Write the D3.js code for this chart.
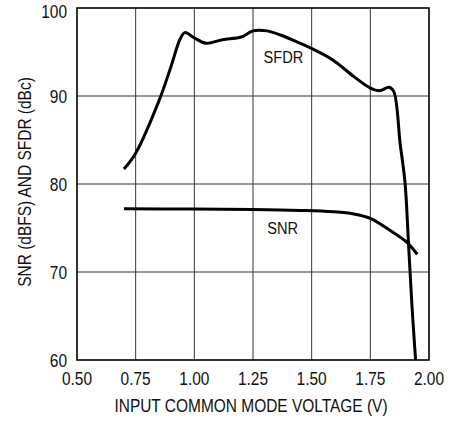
<!DOCTYPE html>
<html>
<head>
<meta charset="utf-8">
<script src="https://cdn.jsdelivr.net/npm/d3@7"></script>
<style>
  body { margin: 0; background: #fff; }
  text { font-family: "Liberation Sans", Arial, sans-serif; fill: #111; }
</style>
</head>
<body>
<div id="chart"></div>
<script>
// values
const xTicks = [0.50, 0.75, 1.00, 1.25, 1.50, 1.75, 2.00];
const yTicks = [60, 70, 80, 90, 100];

const sfdrV = [0.70, 0.75, 0.85, 0.90, 0.94, 0.96, 1.00, 1.05, 1.12, 1.20, 1.25, 1.31, 1.37, 1.45, 1.50, 1.59, 1.68, 1.75, 1.79, 1.83, 1.85, 1.877, 1.898, 1.912, 1.926, 1.94, 1.943];
const sfdrDb = [81.7, 83.5, 89.5, 93.3, 96.5, 97.2, 96.6, 96.0, 96.4, 96.7, 97.4, 97.4, 96.9, 96.0, 95.4, 94.1, 92.2, 90.9, 90.6, 91.0, 90.5, 84.6, 80.1, 73.6, 66.8, 61.1, 60.0];

const snrV = [0.70, 1.00, 1.25, 1.45, 1.59, 1.68, 1.75, 1.83, 1.905, 1.95];
const snrDb = [77.2, 77.15, 77.1, 77.0, 76.85, 76.6, 76.1, 74.8, 73.4, 72.0];

const width = 450;
const height = 423;
const margin = { top: 8, right: 21, bottom: 63, left: 77 };
const narrow = 0.86; // no condensed face installed, squeeze horizontally

const svg = d3.select("#chart")
  .append("svg")
  .attr("width", width)
  .attr("height", height);

const x = d3.scaleLinear().domain([0.5, 2.0]).range([margin.left, width - margin.right]);
const y = d3.scaleLinear().domain([60, 100]).range([height - margin.bottom, margin.top]);

// grid
svg.append("g")
  .selectAll("line")
  .data(xTicks.slice(1, -1))
  .join("line")
    .attr("x1", d => x(d)).attr("x2", d => x(d))
    .attr("y1", y(60)).attr("y2", y(100))
    .attr("stroke", "#333").attr("stroke-width", 1);

svg.append("g")
  .selectAll("line")
  .data(yTicks.slice(1, -1))
  .join("line")
    .attr("x1", x(0.5)).attr("x2", x(2.0))
    .attr("y1", d => y(d)).attr("y2", d => y(d))
    .attr("stroke", "#333").attr("stroke-width", 1);

// frame
svg.append("rect")
  .attr("x", x(0.5)).attr("y", y(100))
  .attr("width", x(2.0) - x(0.5)).attr("height", y(60) - y(100))
  .attr("fill", "none").attr("stroke", "#000").attr("stroke-width", 1.6);

// tick labels
svg.append("g")
  .selectAll("text")
  .data(xTicks)
  .join("text")
    .attr("transform", d => `translate(${x(d)}, ${y(60) + 25}) scale(${narrow}, 1)`)
    .attr("text-anchor", "middle")
    .style("font-size", "18px")
    .text(d => d.toFixed(2));

// top label sits a little lower so it is not clipped
svg.append("g")
  .selectAll("text")
  .data(yTicks)
  .join("text")
    .attr("transform", d => `translate(${x(0.5) - 10}, ${y(d) + (d === 100 ? 10 : 7)}) scale(${narrow}, 1)`)
    .attr("text-anchor", "end")
    .style("font-size", "18px")
    .text(d => d);

// axis titles
svg.append("text")
  .attr("transform", `translate(${(x(0.5) + x(2.0)) / 2 - 2}, 412) scale(${narrow}, 1)`)
  .attr("text-anchor", "middle")
  .style("font-size", "18px")
  .text("INPUT COMMON MODE VOLTAGE (V)");

svg.append("text")
  .attr("transform", `translate(31, ${(y(60) + y(100)) / 2 - 2}) rotate(-90) scale(${narrow}, 1)`)
  .attr("text-anchor", "middle")
  .style("font-size", "18px")
  .text("SNR (dBFS) AND SFDR (dBc)");

// curves
const line = d3.line()
  .x(d => x(d[0]))
  .y(d => y(d[1]))
  .curve(d3.curveCatmullRom.alpha(0.5));

svg.append("path")
  .datum(d3.zip(sfdrV, sfdrDb))
  .attr("d", line)
  .attr("fill", "none").attr("stroke", "#000").attr("stroke-width", 3);

svg.append("path")
  .datum(d3.zip(snrV, snrDb))
  .attr("d", line)
  .attr("fill", "none").attr("stroke", "#000").attr("stroke-width", 3);

// curve labels
svg.append("text")
  .attr("transform", `translate(${x(1.38)}, ${y(93.75)}) scale(${narrow}, 1)`)
  .attr("text-anchor", "middle")
  .style("font-size", "17px")
  .text("SFDR");

svg.append("text")
  .attr("transform", `translate(${x(1.376)}, ${y(74.3)}) scale(${narrow}, 1)`)
  .attr("text-anchor", "middle")
  .style("font-size", "17px")
  .text("SNR");
</script>
</body>
</html>
